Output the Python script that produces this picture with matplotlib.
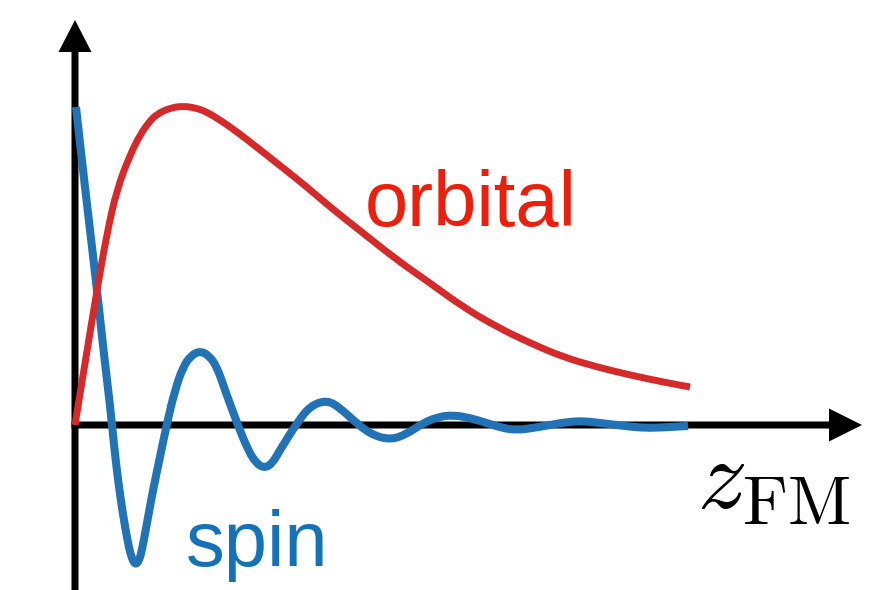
import matplotlib.pyplot as plt
from matplotlib.path import Path
from matplotlib.patches import PathPatch

plt.rcParams['mathtext.fontset'] = 'cm'

# spin signal along z (damped oscillation)
z_spin = [0.01, 0.08, 0.15, 0.22, 0.29, 0.35, 0.39, 0.43, 0.48, 0.53, 0.56, 0.60,
          0.64, 0.67, 0.72, 0.78, 0.85, 0.92, 1.00, 1.08, 1.16, 1.25, 1.34, 1.42,
          1.50, 1.62, 1.73, 1.81, 1.89, 1.97, 2.05, 2.22, 2.35, 2.52, 2.65, 2.78,
          2.95, 3.15, 3.32, 3.48, 3.63, 3.78, 3.95, 4.12, 4.27, 4.42, 4.58, 4.75,
          4.92, 5.08, 5.25, 5.42, 5.58, 5.75, 5.95, 6.13]
s_spin = [3.18, 2.55, 1.95, 1.35, 0.70, 0.20, -0.20, -0.55, -0.90, -1.18, -1.31, -1.40,
          -1.36, -1.25, -0.98, -0.65, -0.32, 0.02, 0.35, 0.58, 0.695, 0.74, 0.695, 0.58,
          0.35, 0.02, -0.25, -0.38, -0.43, -0.39, -0.25, 0.02, 0.19, 0.25, 0.17, 0.05,
          -0.09, -0.15, -0.09, 0.02, 0.08, 0.10, 0.07, 0.02, -0.03, -0.05, -0.03, 0.00,
          0.03, 0.04, 0.02, 0.00, -0.02, -0.03, -0.02, -0.01]

# orbital signal along z (rise then slow decay)
z_orb = [0.00, 0.11, 0.22, 0.32, 0.42, 0.55, 0.65, 0.74, 0.82, 0.95, 1.08, 1.21,
         1.32, 1.48, 1.65, 1.98, 2.32, 2.55, 2.88, 3.22, 3.55, 3.88, 4.22, 4.55,
         4.88, 5.22, 5.55, 5.88, 6.15]
s_orb = [0.00, 0.68, 1.35, 1.92, 2.36, 2.70, 2.90, 3.03, 3.11, 3.17, 3.19, 3.17,
         3.13, 3.03, 2.91, 2.65, 2.38, 2.18, 1.92, 1.65, 1.42, 1.18, 0.98, 0.82,
         0.68, 0.58, 0.50, 0.43, 0.38]


def smooth_path(xs, ys):
    # quadratic bezier through midpoints, points act as control points
    pts = list(zip(xs, ys))
    verts = [pts[0], ((pts[0][0] + pts[1][0]) / 2, (pts[0][1] + pts[1][1]) / 2)]
    codes = [Path.MOVETO, Path.LINETO]
    for i in range(1, len(pts) - 1):
        mid = ((pts[i][0] + pts[i + 1][0]) / 2, (pts[i][1] + pts[i + 1][1]) / 2)
        verts += [pts[i], mid]
        codes += [Path.CURVE3, Path.CURVE3]
    verts.append(pts[-1])
    codes.append(Path.LINETO)
    return Path(verts, codes)


fig = plt.figure(figsize=(8.88, 5.90), dpi=100)
ax = fig.add_axes([0, 0, 1, 1])
ax.set_xlim(-0.75, 8.13)
ax.set_ylim(-1.65, 4.25)
ax.axis('off')

# axes with arrow heads
ax.arrow(0, -1.8, 0, 5.85, width=0.07, head_width=0.33, head_length=0.32,
         length_includes_head=True, color='black', lw=0, zorder=1)
ax.arrow(-0.035, 0, 7.905, 0, width=0.07, head_width=0.33, head_length=0.33,
         length_includes_head=True, color='black', lw=0, zorder=1)

ax.add_patch(PathPatch(smooth_path(z_spin, s_spin), fill=False, edgecolor='#2273b5',
                       lw=5.8, capstyle='butt', joinstyle='round', zorder=2))
ax.add_patch(PathPatch(smooth_path(z_orb, s_orb), fill=False, edgecolor='#d62a2a',
                       lw=5.0, capstyle='butt', joinstyle='round', zorder=3))

ax.text(2.90, 1.99, 'orbital', color='#ec1f0c', fontsize=56,
        family='Liberation Sans', ha='left', va='baseline')
ax.text(1.11, -1.41, 'spin', color='#1572b8', fontsize=56,
        family='Liberation Sans', ha='left', va='baseline')
ax.text(6.22, -0.83, r'$z_{\rm FM}$', color='black', fontsize=71,
        ha='left', va='baseline')

fig.savefig('out.png', dpi=100, facecolor='white')
